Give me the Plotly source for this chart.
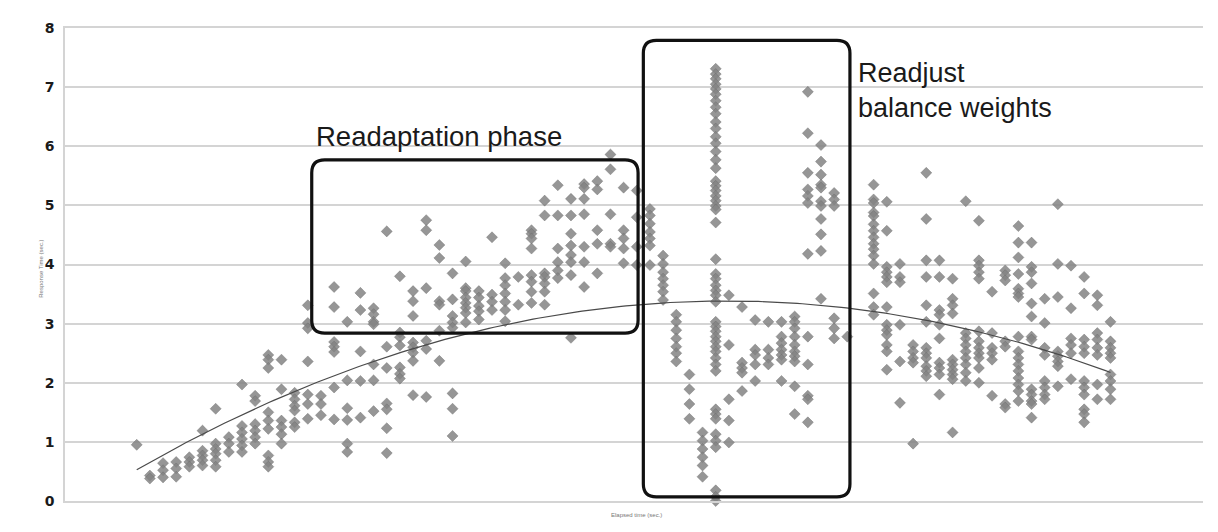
import numpy as np
import plotly.graph_objects as go

# Response times (sec.) observed at each elapsed-time step (index = step)
response_by_step = [
    [0.95],
    [0.43, 0.38],
    [0.64, 0.52, 0.40],
    [0.66, 0.55, 0.41],
    [0.74, 0.66, 0.58],
    [1.19, 0.85, 0.77, 0.69, 0.60],
    [1.56, 0.97, 0.88, 0.80, 0.69, 0.58],
    [1.08, 0.97, 0.83],
    [1.97, 1.27, 1.16, 1.05, 0.94, 0.83],
    [1.78, 1.69, 1.30, 1.19, 1.08, 0.97],
    [2.47, 2.39, 2.25, 1.50, 1.36, 1.22, 0.77, 0.66, 0.58],
    [2.39, 1.89, 1.36, 1.25, 1.13, 0.97],
    [1.83, 1.72, 1.61, 1.53, 1.33, 1.25],
    [3.31, 3.01, 2.92, 2.36, 1.80, 1.64, 1.39],
    [1.78, 1.64, 1.45],
    [3.62, 3.28, 2.69, 2.61, 2.52, 1.92, 1.38],
    [3.03, 2.04, 1.57, 1.37, 0.97, 0.83],
    [3.52, 3.23, 2.53, 2.03, 1.41],
    [3.26, 3.16, 3.03, 2.99, 2.31, 2.04, 1.52],
    [4.56, 2.61, 2.25, 1.65, 1.55, 1.23, 0.81],
    [3.80, 2.85, 2.77, 2.63, 2.26, 2.15, 2.07],
    [3.55, 3.38, 3.13, 2.68, 2.60, 2.51, 2.37, 1.79],
    [4.75, 4.58, 3.60, 2.71, 2.57, 1.76],
    [4.33, 4.11, 3.38, 3.32, 2.88, 2.37],
    [3.85, 3.41, 3.13, 3.02, 2.93, 1.82, 1.56, 1.10],
    [4.05, 3.60, 3.55, 3.44, 3.35, 3.27, 3.18, 3.02],
    [3.55, 3.44, 3.30, 3.21, 3.07],
    [4.46, 3.49, 3.37, 3.23],
    [4.02, 3.77, 3.65, 3.51, 3.37, 3.23, 3.04],
    [3.79, 3.32],
    [4.58, 4.52, 4.44, 4.27, 3.82, 3.71, 3.54, 3.35],
    [5.08, 4.83, 3.85, 3.79, 3.68, 3.54, 3.32],
    [5.34, 4.83, 4.27, 4.04, 3.90, 3.77],
    [5.11, 4.83, 4.52, 4.32, 4.16, 4.04, 3.82, 2.76],
    [5.36, 5.30, 5.11, 4.85, 4.30, 4.04, 3.62],
    [5.41, 5.27, 4.58, 4.35, 3.85],
    [5.86, 5.61, 4.85, 4.35, 4.30],
    [5.30, 4.58, 4.44, 4.27, 4.02],
    [5.25, 4.80, 4.30, 3.99],
    [4.94, 4.83, 4.69, 4.55, 4.44, 4.32, 3.99],
    [4.15, 4.01, 3.87, 3.76, 3.65, 3.54, 3.40],
    [3.15, 3.03, 2.89, 2.75, 2.61, 2.50, 2.36],
    [2.14, 1.89, 1.64, 1.39],
    [1.16, 1.02, 0.88, 0.74, 0.60, 0.41],
    [7.31, 7.22, 7.14, 7.05, 6.97, 6.88, 6.77, 6.66, 6.55, 6.41, 6.30, 6.16,
     6.05, 5.91, 5.77, 5.63, 5.41, 5.33, 5.25, 5.16, 5.08, 4.99, 4.93, 4.71,
     4.09, 3.84, 3.76, 3.65, 3.56, 3.48, 3.37,
     3.03, 2.95, 2.87, 2.78, 2.70, 2.61, 2.53, 2.42, 2.31, 2.20,
     1.55, 1.47, 1.39, 1.13, 1.02, 0.91, 0.18, 0.07, 0.00],
    [3.48, 2.64, 1.72, 1.36, 0.99],
    [3.28, 2.34, 2.25, 2.17, 1.86],
    [3.06, 2.56, 2.47, 2.31, 2.03],
    [3.03, 2.56, 2.42, 2.31],
    [3.03, 2.78, 2.67, 2.56, 2.47, 2.39, 2.03],
    [3.12, 3.03, 2.92, 2.78, 2.64, 2.53, 2.45, 2.36, 1.94, 1.47],
    [6.92, 6.22, 5.55, 5.27, 5.16, 5.04, 4.18, 2.78, 2.31, 1.78, 1.72, 1.33],
    [6.02, 5.74, 5.52, 5.35, 5.30, 5.07, 4.99, 4.77, 4.51, 4.23, 3.42],
    [5.21, 5.10, 4.99, 3.09, 2.92, 2.75],
    [2.78],
    [],
    [5.35, 5.10, 5.04, 4.88, 4.82, 4.68, 4.57, 4.46, 4.35, 4.26, 4.15, 4.01, 3.51, 3.28, 3.15],
    [5.06, 4.57, 3.96, 3.87, 3.79, 3.70, 3.28, 2.98, 2.89, 2.81, 2.64, 2.53, 2.22],
    [4.01, 3.79, 3.70, 2.98, 2.36, 1.66],
    [2.64, 2.53, 2.42, 2.34, 0.97],
    [5.55, 4.77, 4.07, 3.79, 3.31, 3.03, 2.59, 2.50, 2.42, 2.28, 2.20, 2.11],
    [4.07, 3.79, 3.23, 3.15, 2.98, 2.75, 2.34, 2.25, 2.14, 1.80],
    [3.76, 3.42, 3.31, 3.17, 2.39, 2.31, 2.22, 2.14, 2.06, 1.16],
    [5.07, 2.84, 2.75, 2.64, 2.53, 2.42, 2.31, 2.17, 2.03],
    [4.74, 4.07, 3.98, 3.87, 3.76, 2.87, 2.70, 2.59, 2.50, 2.42, 2.25, 2.00],
    [3.54, 2.84, 2.59, 2.50, 2.39, 1.78],
    [3.90, 3.82, 3.73, 2.70, 2.61, 1.64, 1.58],
    [4.65, 4.37, 4.12, 3.84, 3.59, 3.51, 3.45, 2.78, 2.53, 2.42, 2.31, 2.20, 2.08, 1.97, 1.86, 1.69],
    [4.37, 3.96, 3.87, 3.68, 3.34, 3.12, 2.78, 2.73, 1.89, 1.80, 1.69, 1.64, 1.41],
    [3.42, 3.01, 2.59, 2.47, 2.03, 1.92, 1.80, 1.72],
    [5.02, 4.01, 3.45, 2.53, 2.45, 2.36, 2.28, 1.94],
    [3.98, 3.26, 2.75, 2.64, 2.50, 2.06],
    [3.79, 3.51, 2.73, 2.61, 2.50, 2.03, 1.92, 1.80, 1.55, 1.47, 1.33],
    [3.48, 3.31, 2.84, 2.73, 2.59, 2.47, 1.97, 1.72],
    [3.03, 2.70, 2.59, 2.50, 2.42, 2.14, 2.03, 1.89, 1.72],
]

# Polynomial (order 2) trend line coefficients, highest power first
trend_coeffs = [-0.00142, 0.1273, 0.53]

y_ticks = [0, 1, 2, 3, 4, 5, 6, 7, 8]

# Annotation regions (elapsed step, response time)
readapt_box = (13.3, 2.84, 38.1, 5.77)
readjust_box = (38.5, 0.07, 54.2, 7.79)

elapsed = []
response = []
for step, vals in enumerate(response_by_step):
    for v in vals:
        elapsed.append(step)
        response.append(v)

n_steps = len(response_by_step)
trend_x = np.linspace(0, n_steps - 1, 200)
trend_y = np.polyval(trend_coeffs, trend_x)

fig = go.Figure()
fig.add_trace(go.Scatter(
    x=elapsed, y=response, mode="markers",
    marker=dict(symbol="diamond", size=8.5, color="rgba(132,132,132,0.85)",
                line=dict(width=0.6, color="rgba(100,100,100,0.6)")),
    cliponaxis=False, showlegend=False, hoverinfo="skip",
))
fig.add_trace(go.Scatter(
    x=trend_x, y=trend_y, mode="lines",
    line=dict(color="#4a4a4a", width=1.2),
    cliponaxis=False, showlegend=False, hoverinfo="skip",
))


def rounded_path(x0, y0, x1, y1, rx, ry):
    return (f"M {x0+rx},{y0} L {x1-rx},{y0} Q {x1},{y0} {x1},{y0+ry} "
            f"L {x1},{y1-ry} Q {x1},{y1} {x1-rx},{y1} L {x0+rx},{y1} "
            f"Q {x0},{y1} {x0},{y1-ry} L {x0},{y0+ry} Q {x0},{y0} {x0+rx},{y0} Z")


x_range = [-5.45, 81.03]
y_range = [0, 8]
plot_w = 1138
plot_h = 477
rad_px = 13
rx = rad_px * (x_range[1] - x_range[0]) / plot_w
ry = rad_px * (y_range[1] - y_range[0]) / plot_h

for box in (readapt_box, readjust_box):
    fig.add_shape(type="path", path=rounded_path(*box, rx, ry),
                  xref="x", yref="y", line=dict(color="#111111", width=3.2),
                  fillcolor="rgba(0,0,0,0)", layer="above")

# faint frame line at far left
fig.add_shape(type="line", xref="paper", yref="paper",
              x0=-0.051, x1=-0.051, y0=-0.07, y1=1.06,
              line=dict(color="#e8e8e8", width=1.5))

fig.add_annotation(x=13.5, y=6.17, xref="x", yref="y", text="Readaptation phase",
                   showarrow=False, xanchor="left", yanchor="middle",
                   font=dict(family="Liberation Sans, Arial, sans-serif", size=27.5, color="#1a1a1a"))
fig.add_annotation(x=54.65, y=6.95, xref="x", yref="y", text="Readjust<br>balance weights",
                   showarrow=False, xanchor="left", yanchor="middle", align="left",
                   font=dict(family="Liberation Sans, Arial, sans-serif", size=27, color="#1a1a1a"))

fig.add_annotation(x=-0.025, y=0.49, xref="paper", yref="paper", text="Response Time (sec.)",
                   textangle=-90, showarrow=False,
                   font=dict(family="Liberation Sans, Arial, sans-serif", size=6, color="#777777"))
fig.add_annotation(x=0.502, y=-0.02, xref="paper", yref="paper", text="Elapsed time (sec.)",
                   showarrow=False, yanchor="top",
                   font=dict(family="Liberation Sans, Arial, sans-serif", size=6, color="#777777"))

# the page body adds an 8px offset, so the figure is sized to fit inside it
fig.update_layout(
    width=1210, height=524,
    margin=dict(l=57, r=15, t=16, b=31),
    paper_bgcolor="white", plot_bgcolor="white",
    xaxis=dict(range=x_range, showgrid=False, zeroline=False, showticklabels=False,
               showline=True, mirror=True, linecolor="#d4d4d4", linewidth=1.5, ticks=""),
    yaxis=dict(range=y_range, tickvals=y_ticks, showgrid=True, gridcolor="#d4d4d4",
               gridwidth=1.5, zeroline=False, showline=True, linecolor="#d4d4d4",
               linewidth=1.5, ticks="", ticklabelstandoff=6,
               tickfont=dict(family="DejaVu Sans, sans-serif", size=14, color="#1a1a1a",
                             weight="bold")),
)

fig.write_html("out.html")
